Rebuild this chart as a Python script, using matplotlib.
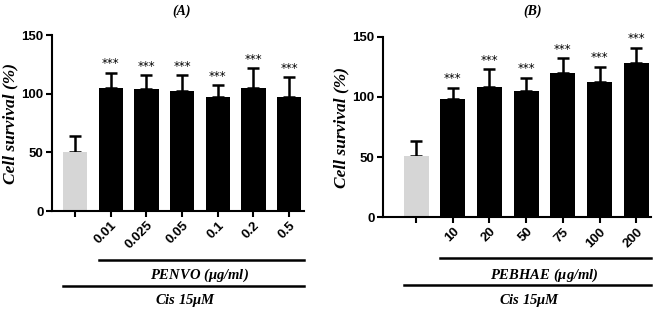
import numpy as np
import matplotlib.pyplot as plt
from matplotlib.transforms import blended_transform_factory

# panel A data
labels_a = ['', '0.01', '0.025', '0.05', '0.1', '0.2', '0.5']
means_a = [50.5, 105, 104, 102, 97, 104.5, 97.5]
sd_a = [13, 13, 12, 14, 10, 17.5, 16.5]

# panel B data
labels_b = ['', '10', '20', '50', '75', '100', '200']
means_b = [51, 98, 108, 104.5, 120, 112, 128.5]
sd_b = [12.5, 9.5, 15, 11.5, 12, 13, 12.5]

colors = ['#d6d6d6'] + ['black'] * 6
serif_bi = dict(family='Liberation Serif', weight='bold', style='italic')

plt.rcParams['mathtext.fontset'] = 'custom'
plt.rcParams['mathtext.it'] = 'Liberation Serif:italic:bold'
plt.rcParams['mathtext.rm'] = 'Liberation Serif:italic:bold'

W, H = 666, 310
fig = plt.figure(figsize=(W / 100, H / 100), dpi=100)


def make_panel(rect, labels, means, sd, xlim, title, title_x, group, lines):
    l, r, b, t = rect
    ax = fig.add_axes([l / W, 1 - b / H, (r - l) / W, (b - t) / H])
    x = np.arange(len(means))
    ax.bar(x, means, width=0.68, color=colors, zorder=2)
    ax.errorbar(x, means, yerr=[np.zeros(len(sd)), sd], fmt='none',
                ecolor='black', elinewidth=1.8, capsize=4.2, capthick=1.8, zorder=1)
    for xi, m, s in zip(x[1:], means[1:], sd[1:]):
        ax.text(xi, m + s + 2, '***', ha='center', va='bottom', fontsize=8.5,
                family='DejaVu Sans')
    ax.set_xlim(*xlim)
    ax.set_ylim(0, 150)
    ax.set_yticks([0, 50, 100, 150])
    ax.set_xticks(x)
    ax.set_xticklabels(labels, rotation=45, ha='right', rotation_mode='anchor',
                       family='Liberation Sans', weight='bold', fontsize=9.5)
    for lab in ax.get_yticklabels():
        lab.set_family('Liberation Sans')
        lab.set_weight('bold')
        lab.set_fontsize(9.5)
    ax.spines['top'].set_visible(False)
    ax.spines['right'].set_visible(False)
    ax.spines['left'].set_linewidth(1.5)
    ax.spines['bottom'].set_linewidth(1.5)
    ax.tick_params(width=1.5, length=4, pad=2)
    ax.set_ylabel('Cell survival (%)', fontsize=12.5, labelpad=2, **serif_bi)
    fig.text(title_x / W, 1 - 11 / H, title, ha='center', va='center',
             fontsize=10, **serif_bi)

    tr = blended_transform_factory(ax.transData, ax.transAxes)
    (y1, ty1), (y2, ty2) = lines
    ax.plot([1 - 0.34, xlim[1]], [y1, y1], color='black', lw=1.8,
            transform=tr, clip_on=False)
    ax.text(3.5, ty1, group, transform=tr, ha='center', va='center',
            fontsize=10.5, **serif_bi)
    ax.plot([-0.34, xlim[1]], [y2, y2], color='black', lw=1.8,
            transform=tr, clip_on=False)
    ax.text(3.1, ty2, 'Cis 15$\\mu$M', transform=tr, ha='center', va='center',
            fontsize=10.5, **serif_bi)
    return ax


make_panel((52, 304, 211, 35), labels_a, means_a, sd_a, (-0.65, 6.42), '(A)', 182,
           'PENVO ($\\mu$g/ml)', ((-0.278, -0.364), (-0.426, -0.506)))
make_panel((383, 651, 217.3, 36.7), labels_b, means_b, sd_b, (-0.9, 6.4), '(B)', 533,
           'PEBHAE ($\\mu$g/ml)', ((-0.225, -0.32), (-0.375, -0.458)))

fig.savefig('out.png', dpi=100)
